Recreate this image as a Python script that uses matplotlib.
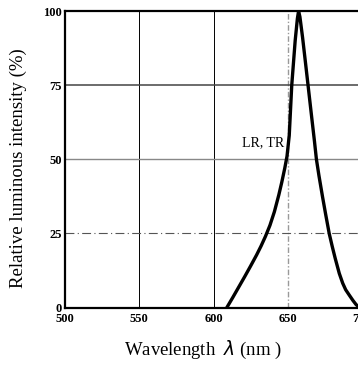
import numpy as np
import matplotlib
matplotlib.use("Agg")
import matplotlib.pyplot as plt

wavelength = [609, 613, 617, 621, 625, 629, 632, 635, 638, 641, 644, 646,
              648, 649.5, 651, 652.7, 655, 656.5, 657.3, 658.2, 660, 662,
              664, 666, 668, 669.3, 671, 673.4, 675.5, 677.9, 680, 682,
              684.7, 687, 689, 691.4, 694, 696, 698.2]
intensity = [0, 3.4, 6.9, 10.4, 14.0, 17.7, 20.7, 24.0, 27.7, 32.3, 38.0, 42.3,
             47.0, 51, 58, 75, 90, 97.5, 100, 98, 91, 82.3,
             73.5, 64.7, 56, 50, 44.5, 37.4, 31.5, 25, 20.5, 16.5,
             11.5, 8.2, 6, 4.2, 2.3, 1, 0]

xticks = [500, 550, 600, 650, 700]
yticks = [0, 25, 50, 75, 100]

plt.rcParams['font.family'] = ['Liberation Serif', 'DejaVu Serif']

fig = plt.figure(figsize=(3.58, 3.68), dpi=100)
W, H = 358, 368
# axes in pixel coords: left 65, right ~362 (clipped), top 11, bottom 307.5
ax = fig.add_axes([65 / W, (H - 307.5) / H, (362 - 65) / W, (307.5 - 11) / H])
ax.set_xlim(500, 700)
ax.set_ylim(0, 100)

# grid lines
ax.axvline(550, color='black', lw=0.7)
ax.axvline(600, color='black', lw=0.7)
ax.axvline(650, color='#999999', lw=1.0, ls=(0, (4, 1.5, 1, 1.5)))
ax.axhline(75, color='#444444', lw=1.1)
ax.axhline(50, color='#888888', lw=1.0)
ax.axhline(25, color='#555555', lw=0.8, ls=(0, (8, 3, 1, 3)))

ax.plot(wavelength, intensity, color='black', lw=2.4,
        solid_joinstyle='round', solid_capstyle='round')

ax.text(647.5, 55.5, 'LR, TR', ha='right', va='center', fontsize=10)

for s in ['left', 'bottom', 'top', 'right']:
    ax.spines[s].set_linewidth(1.6)

ax.set_xticks(xticks)
ax.set_yticks(yticks)
ax.tick_params(axis='x', length=0, pad=4, labelsize=9)
ax.tick_params(axis='y', length=0, pad=2, labelsize=9)
for lab in ax.get_xticklabels() + ax.get_yticklabels():
    lab.set_fontweight('bold')

fig.text(18 / W, 1 - 168 / H, 'Relative luminous intensity (%)', rotation=90,
         ha='center', va='center', fontsize=13.5)
fig.text(203 / W, 1 - 350 / H, 'Wavelength  $\\lambda$ (nm )', ha='center',
         va='center', fontsize=13.5)

fig.savefig('out.png', dpi=100)
